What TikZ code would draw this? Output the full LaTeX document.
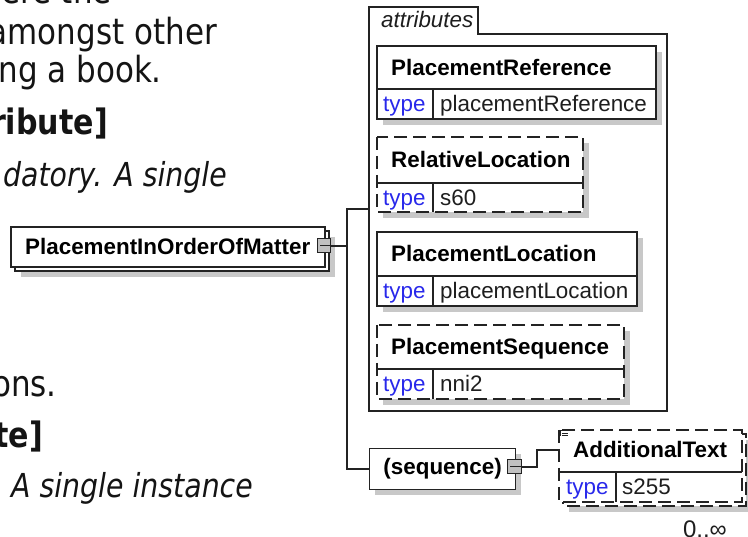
\documentclass[tikz,border=0pt]{standalone}
\usepackage{fontspec}
\setmainfont{Liberation Sans}
\newfontfamily\docfont{DejaVu Sans}[FakeStretch=0.86]
\definecolor{linec}{RGB}{35,35,35}
\definecolor{shadowc}{RGB}{200,200,200}
\definecolor{btnc}{RGB}{192,192,192}
\definecolor{typec}{RGB}{40,40,235}
\definecolor{valc}{RGB}{30,30,30}
\definecolor{docc}{RGB}{20,20,20}
\tikzset{
  ln/.style={draw=linec, line width=1.2pt},
  dsh/.style={dash pattern=on 13pt off 6pt},
  shd/.style={fill=shadowc},
  ttl/.style={font=\bfseries\fontsize{22.4}{26}\selectfont, anchor=base west, inner sep=0pt, text=black},
  typ/.style={font=\fontsize{22.4}{26}\selectfont, text=typec, anchor=base west, inner sep=0pt},
  val/.style={font=\fontsize{22.4}{26}\selectfont, text=valc, anchor=base west, inner sep=0pt},
  docr/.style={font=\docfont\fontsize{36}{42}\selectfont, anchor=base east, inner sep=0pt, text=docc},
  docb/.style={font=\docfont\bfseries\fontsize{35}{42}\selectfont, anchor=base east, inner sep=0pt, text=docc},
  doci/.style={font=\docfont\itshape\fontsize{33}{40}\selectfont, anchor=base east, inner sep=0pt, text=docc},
}
% #1 id, #2 x1, #3 y1, #4 x2, #5 ydiv, #6 y2, #7 title, #8 value, #9 border style
\newcommand\attrbox[9]{%
  \fill[shd] ({#2+6},{#3+6}) rectangle ({#4+6},{#6+6});
  \fill[white] (#2,#3) rectangle (#4,#6);
  \draw[ln] (#2,#5) -- (#4,#5) ({#2+56},#5) -- ({#2+56},#6);
  \draw[ln,#9] (#2,#3) rectangle (#4,#6);
  \node[ttl] (#1-name) at ({#2+14},{(#3+#5)/2+8}) {#7};
  \node[typ] (#1-type) at ({#2+6},{(#5+#6)/2+8}) {type};
  \node[val] (#1-val) at ({#2+63},{(#5+#6)/2+8}) {#8};
}
\begin{document}
\begin{tikzpicture}[x=1pt,y=-1pt]
\useasboundingbox[fill=white] (0,0) rectangle (748,537);

% background documentation text (cut off at the left edge)
\node[docr] (t1) at (112,4) {ere the};
\node[docr] (t2) at (217,45) {amongst other};
\node[docr] (t3) at (162,83) {ng a book.};
\node[docb] (t4) at (108,135) {ribute]};
\node[doci] (t5) at (227,187) {datory. A single};
\node[docr] (t6) at (57,397) {ons.};
\node[docb] (t7) at (43,448) {te]};
\node[doci] (t8) at (253,498) {A single instance};

% main element
\fill[shd] (21,237) rectangle (335,277);
\draw[ln, fill=white] (15,231) rectangle (329,271);
\draw[ln, fill=white] (11,227) rectangle (325,267);
\node[ttl] (main) at (25,255) {PlacementInOrderOfMatter};
\draw[ln, line width=1pt, fill=btnc] (317,239) rectangle (330,253);
\draw[ln, line width=1pt] (320,246) -- (330,246);
\coordinate (mainbtn) at (330,246);

% attributes frame
\draw[ln] (369,7) -- (478,7) -- (478,34) -- (667,34) -- (667,411) -- (369,411) -- cycle;
\node[font=\itshape\fontsize{22.4}{26}\selectfont, anchor=base west, inner sep=0pt, text=valc] (attrlbl) at (381,28) {attributes};
\coordinate (attrin) at (369,209);

\attrbox{pref}{377}{46}{656}{89}{119}{PlacementReference}{placementReference}{solid}
\attrbox{rloc}{377}{137}{583}{183}{212}{RelativeLocation}{s60}{dsh}
\attrbox{ploc}{377}{232}{637}{276}{306}{PlacementLocation}{placementLocation}{solid}
\attrbox{pseq}{377}{325}{624}{369}{399}{PlacementSequence}{nni2}{dsh}

% sequence compositor
\fill[shd] (375,454) rectangle (521,495);
\node[ln, fill=white, minimum width=146pt, minimum height=41pt, anchor=north west, inner sep=0pt,
      font=\bfseries\fontsize{22.4}{26}\selectfont] (seq) at (369,448) {(sequence)};
\draw[ln, line width=1pt, fill=btnc] (507,460) rectangle (521,474);
\draw[ln, line width=1pt] (510,467) -- (521,467);
\coordinate (seqbtn) at (521,467);

% connectors from main element
\coordinate (j) at (347,246);
\draw[ln] (mainbtn) -- (j);
\draw[ln] (attrin) -| (j) |- (seq.west);

% AdditionalText element
\fill[shd] (569,440) rectangle (754,512);
\draw[ln, dsh, fill=white] (563,434) rectangle (746,506);
\fill[white] (559,430) rectangle (742,502);
\draw[ln] (559,472) -- (742,472) (616,472) -- (616,502);
\draw[ln, dsh] (559,430) rectangle (742,502);
\draw[linec, line width=0.8pt] (560,430.5) -- (568,430.5) (560,430.5) -- (560,436) (562,433) -- (568,433) (562,435.5) -- (568,435.5);
\node[ttl] (add-name) at (573,458) {AdditionalText};
\node[typ] (add-type) at (566,495) {type};
\node[val] (add-val) at (622,495) {s255};
\coordinate (addin) at (559,450);
\draw[ln] (seqbtn) -- ++(16,0) |- (addin);

\node[val, anchor=base east, font=\fontsize{24}{28}\selectfont] (card) at (727,538) {0..∞};
\end{tikzpicture}
\end{document}
